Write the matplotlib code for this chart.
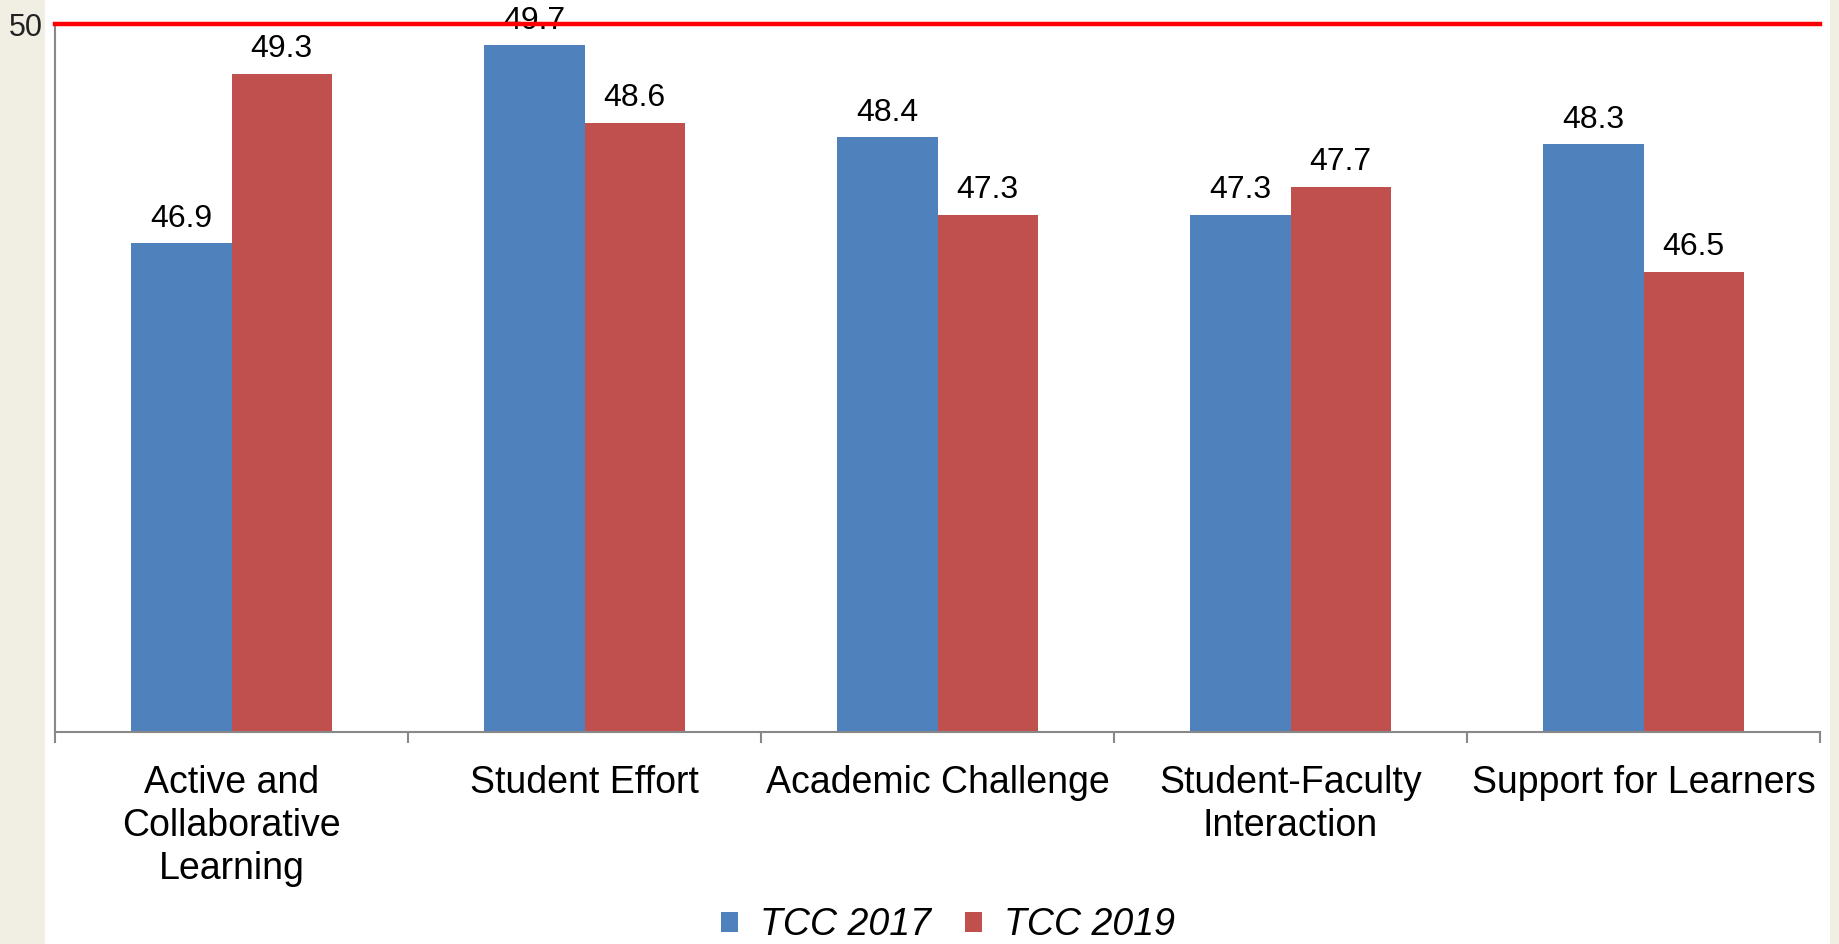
import matplotlib
matplotlib.use("Agg")
import matplotlib.pyplot as plt
import numpy as np

# -- data ---------------------------------------------------------------------
categories = ["Active and\nCollaborative\nLearning", "Student Effort",
              "Academic Challenge", "Student-Faculty\nInteraction",
              "Support for Learners"]
tcc_2017 = [46.9, 49.7, 48.4, 47.3, 48.3]
tcc_2019 = [49.3, 48.6, 47.3, 47.7, 46.5]
series_names = ["TCC 2017", "TCC 2019"]
benchmark = 50

# -- style --------------------------------------------------------------------
plt.rcParams["font.family"] = ["Liberation Sans", "DejaVu Sans"]
blue = "#4F81BD"
red = "#C0504D"
beige = "#F1EEE3"
W, H = 1839, 944

fig = plt.figure(figsize=(W / 100, H / 100), dpi=100)
fig.patch.set_facecolor("white")
# beige side strips
fig.patches.append(plt.Rectangle((0, 0), 45 / W, 1, transform=fig.transFigure,
                                 facecolor=beige, edgecolor="none", zorder=0))
fig.patches.append(plt.Rectangle((1830 / W, 0), 9 / W, 1, transform=fig.transFigure,
                                 facecolor=beige, edgecolor="none", zorder=0))

ax = fig.add_axes([55 / W, (H - 732) / H, (1820 - 55) / W, (732 - 24) / H])
ax.set_facecolor("none")
ax.set_zorder(2)

x = np.arange(len(categories))
bw = 0.284
b1 = ax.bar(x - bw / 2, tcc_2017, bw, color=blue, label=series_names[0], zorder=2)
b2 = ax.bar(x + bw / 2, tcc_2019, bw, color=red, label=series_names[1], zorder=2)

for bars, vals in ((b1, tcc_2017), (b2, tcc_2019)):
    for b, v in zip(bars, vals):
        ax.annotate(f"{v:.1f}", (b.get_x() + b.get_width() / 2, v),
                    xytext=(0, 7), textcoords="offset points",
                    ha="center", va="bottom", fontsize=23, color="black")

ax.axhline(benchmark, color="#FF0000", linewidth=3.2, zorder=3, clip_on=False)

ax.set_ylim(40, 50)
ax.set_xlim(-0.5, len(categories) - 0.5)
ax.set_yticks([benchmark])
ax.set_yticklabels([str(benchmark)], fontsize=22, color="#222222")
ax.tick_params(axis="y", length=0, pad=9)

# category boundaries as ticks, labels at centres
ax.set_xticks(np.arange(len(categories) + 1) - 0.5)
ax.set_xticklabels([])
ax.tick_params(axis="x", which="major", length=8, width=1.5, color="#888888")
ax.set_xticks(x, minor=True)
ax.set_xticklabels(categories, minor=True, fontsize=27, linespacing=1.25)
ax.tick_params(axis="x", which="minor", length=0, pad=24)

for s in ("top", "right"):
    ax.spines[s].set_visible(False)
for s in ("left", "bottom"):
    ax.spines[s].set_color("#888888")
    ax.spines[s].set_linewidth(1.5)

leg = fig.legend(handles=[b1, b2], loc="center",
                 bbox_to_anchor=(948 / W, (H - 925) / H),
                 ncol=2, frameon=False, handlelength=0.45, handleheight=0.45,
                 handletextpad=0.6, columnspacing=0.9,
                 prop={"size": 27, "style": "italic"})

fig.savefig("out.png", dpi=100)
